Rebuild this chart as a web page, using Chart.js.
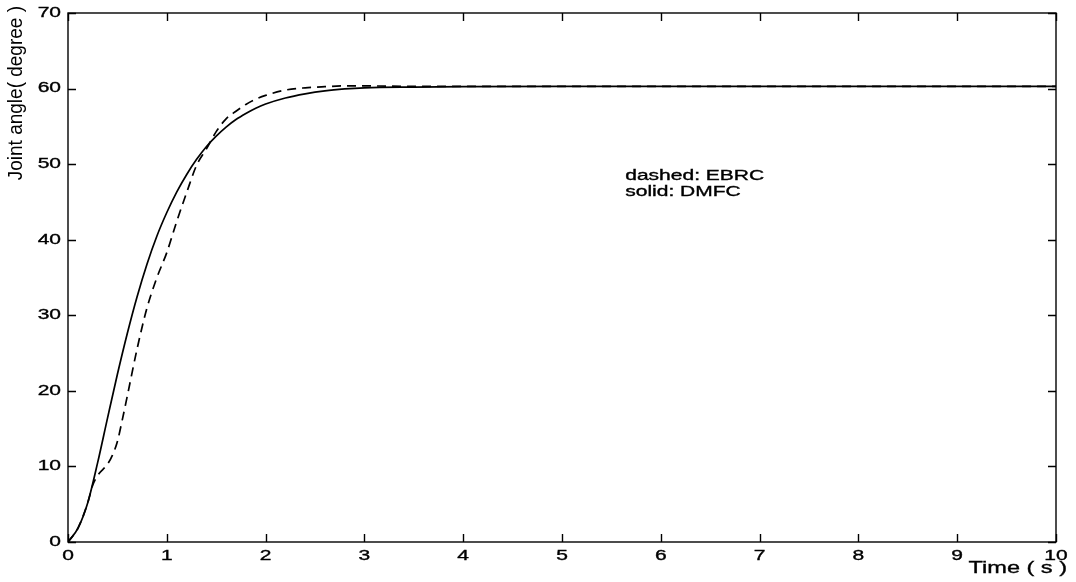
<!DOCTYPE html>
<html>
<head>
<meta charset="utf-8">
<script src="https://cdn.jsdelivr.net/npm/chart.js@4/dist/chart.umd.min.js"></script>
<style>
html,body{margin:0;padding:0;background:#fff;}
#wrap{width:1076px;height:582px;position:relative;}
</style>
</head>
<body>
<div id="wrap"><canvas id="c" width="1076" height="582"></canvas></div>
<script>
// Time values (s)
const timeSolid = [0,0.1,0.2,0.3,0.4,0.5,0.6,0.7,0.8,0.9,1.0,1.1,1.2,1.3,1.4,1.5,1.6,1.7,1.8,1.9,2.0,2.2,2.4,2.6,2.8,3.0,3.5,4,5,6,7,8,9,10];
const solidDMFC = [0,1.8,5.2,10.5,16.4,22.2,27.6,32.5,36.8,40.5,43.6,46.3,48.6,50.6,52.3,53.7,54.9,55.9,56.7,57.4,57.95,58.75,59.3,59.7,59.95,60.1,60.2,60.25,60.3,60.3,60.3,60.3,60.3,60.3];
const timeDashed = [0,0.1,0.2,0.25,0.3,0.4,0.45,0.5,0.55,0.6,0.7,0.8,0.9,1.0,1.1,1.2,1.3,1.4,1.5,1.6,1.7,1.8,1.9,2.0,2.2,2.4,2.6,2.8,3.0,3.5,4,5,6,7,8,9,10];
const dashedEBRC = [0,1.8,5.2,7.5,8.8,10.3,11.5,13.3,16.2,19.3,25.6,31.0,35.0,38.3,42.4,46.2,49.8,52.0,54.3,56.0,57.0,57.9,58.6,59.1,59.8,60.1,60.25,60.35,60.35,60.3,60.3,60.3,60.3,60.3,60.3,60.3,60.3];
const xTicks = [0,1,2,3,4,5,6,7,8,9,10];
const yTicks = [0,10,20,30,40,50,60,70];
const xTitle = "Time ( s )";
const yTitle = "Joint angle( degree )";
const noteLines = ["dashed: EBRC","solid: DMFC"];

const toPts = (xs, ys) => xs.map((x,i)=>({x:x,y:ys[i]}));
const FONT = "'Liberation Sans', Arial, Helvetica, sans-serif";
const SX = 1.5; // horizontal stretch of the scanned lettering

function wideText(ctx, txt, x, y, align, size, stretch){
  ctx.save();
  ctx.font = size+'px '+FONT;
  ctx.textBaseline='middle';
  ctx.textAlign='left';
  const w = ctx.measureText(txt).width*stretch;
  let left = x;
  if(align==='center') left = x - w/2;
  else if(align==='right') left = x - w;
  ctx.translate(left, y);
  ctx.scale(stretch,1);
  ctx.fillText(txt, 0, 0);
  ctx.lineWidth=0.35;
  ctx.strokeStyle='#000';
  ctx.strokeText(txt, 0, 0);
  ctx.restore();
}

const boxTicks = {
  id:'boxTicks',
  afterDraw(chart){
    const {ctx, chartArea:a, scales:{x,y}} = chart;
    ctx.save();
    ctx.strokeStyle='#000';
    ctx.lineWidth=1.4;
    ctx.strokeRect(a.left, a.top, a.right-a.left, a.bottom-a.top);
    const L=8;
    ctx.beginPath();
    xTicks.forEach(v=>{
      const px=Math.round(x.getPixelForValue(v))+0.5;
      ctx.moveTo(px,a.bottom); ctx.lineTo(px,a.bottom-L);
      ctx.moveTo(px,a.top); ctx.lineTo(px,a.top+L);
    });
    yTicks.forEach(v=>{
      const py=Math.round(y.getPixelForValue(v))+0.5;
      ctx.moveTo(a.left,py); ctx.lineTo(a.left+L,py);
      ctx.moveTo(a.right,py); ctx.lineTo(a.right-L,py);
    });
    ctx.stroke();
    ctx.fillStyle='#000';
    // tick labels
    xTicks.forEach(v=>{
      wideText(ctx, String(v), x.getPixelForValue(v), a.bottom+14, 'center', 14, SX);
    });
    yTicks.forEach(v=>{
      wideText(ctx, String(v), a.left-7, y.getPixelForValue(v), 'right', 14, SX);
    });
    // axis titles
    wideText(ctx, xTitle, 1067, 569, 'right', 16, 1.47);
    ctx.save();
    ctx.font='19px '+FONT;
    ctx.textBaseline='middle';
    ctx.textAlign='right';
    ctx.translate(16, 6);
    ctx.rotate(-Math.PI/2);
    ctx.scale(1,1.1);
    ctx.fillText(yTitle, 0, 0);
    ctx.restore();
    // annotation text
    const tx=x.getPixelForValue(5.64);
    wideText(ctx, noteLines[0], tx, 176, 'left', 14, SX);
    wideText(ctx, noteLines[1], tx, 192, 'left', 14, SX);
    ctx.restore();
  }
};

new Chart(document.getElementById('c'), {
  type:'line',
  data:{
    datasets:[
      {label:'EBRC', data:toPts(timeDashed, dashedEBRC), borderColor:'#000', borderWidth:1.7, borderDash:[9,6], pointRadius:0, fill:false, cubicInterpolationMode:'monotone'},
      {label:'DMFC', data:toPts(timeSolid, solidDMFC), borderColor:'#000', borderWidth:1.7, pointRadius:0, fill:false, cubicInterpolationMode:'monotone'}
    ]
  },
  options:{
    responsive:false,
    animation:false,
    layout:{padding:{top:13,right:20,left:0,bottom:0}},
    plugins:{legend:{display:false}, tooltip:{enabled:false}},
    scales:{
      x:{
        type:'linear', min:0, max:10,
        afterFit(s){ s.height=40; },
        afterBuildTicks(s){ s.ticks = xTicks.map(v=>({value:v})); },
        grid:{display:false, drawTicks:false},
        border:{display:false},
        ticks:{display:false}
      },
      y:{
        type:'linear', min:0, max:70,
        afterFit(s){ s.width=68; },
        afterBuildTicks(s){ s.ticks = yTicks.map(v=>({value:v})); },
        grid:{display:false, drawTicks:false},
        border:{display:false},
        ticks:{display:false}
      }
    }
  },
  plugins:[boxTicks]
});
</script>
</body>
</html>
